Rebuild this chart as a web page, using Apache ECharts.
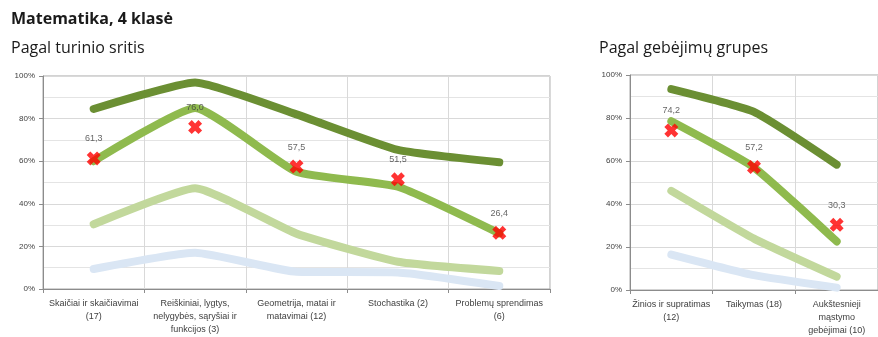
<!DOCTYPE html>
<html>
<head>
<meta charset="utf-8">
<script src="https://cdn.jsdelivr.net/npm/echarts@6/dist/echarts.min.js"></script>
<style>
  html, body { margin: 0; padding: 0; background: #ffffff; }
  #chart { width: 878px; height: 337px; }
</style>
</head>
<body>
<div id="chart"></div>
<script>
// Content areas (left panel)
const contentCategories = [
  'Skaičiai ir skaičiavimai\n(17)',
  'Reiškiniai, lygtys,\nnelygybės, sąryšiai ir\nfunkcijos (3)',
  'Geometrija, matai ir\nmatavimai (12)',
  'Stochastika (2)',
  'Problemų sprendimas\n(6)'
];
const contentHigh   = [84.5, 97.0, 82.0, 65.3, 59.5];
const contentAvgLine = [60.0, 85.0, 55.0, 48.0, 26.1];
const contentLow    = [30.4, 47.3, 26.0, 12.8, 8.5];
const contentLowest = [9.4, 17.0, 8.1, 7.8, 1.4];
const contentScore  = [61.3, 76.0, 57.5, 51.5, 26.4];

// Ability groups (right panel)
const abilityCategories = [
  'Žinios ir supratimas\n(12)',
  'Taikymas (18)',
  'Aukštesnieji\nmąstymo\ngebėjimai (10)'
];
const abilityHigh    = [93.4, 82.8, 58.3];
const abilityAvgLine = [78.5, 57.0, 22.6];
const abilityLow     = [46.1, 23.9, 6.2];
const abilityLowest  = [16.5, 6.9, 1.1];
const abilityScore   = [74.2, 57.2, 30.3];

const yTicks = [0, 20, 40, 60, 80, 100];

const C_DARK = '#6b8f33';
const C_MID = '#8fba4e';
const C_LIGHT = '#c2d89c';
const C_BLUE = '#dae6f4';
const TEXT = '#404040';
const FONT = '"Liberation Sans", Arial, sans-serif';

const crossPath = 'path://M2.6,0L5,2.4L7.4,0L10,2.6L7.6,5L10,7.4L7.4,10L5,7.6L2.6,10L0,7.4L2.4,5L0,2.6Z';

function lineSeries(data, color, idx) {
  return {
    type: 'line', xAxisIndex: idx, yAxisIndex: idx, data: data,
    smooth: 0.15, symbol: 'none', silent: true,
    lineStyle: { color: color, width: 8, cap: 'round', join: 'round' }
  };
}
function scoreSeries(data, idx) {
  return {
    type: 'scatter', xAxisIndex: idx, yAxisIndex: idx, data: data,
    symbol: crossPath, symbolSize: 14, z: 5,
    itemStyle: { color: '#ff0000' },
    label: {
      show: true, position: 'top', distance: 8,
      color: TEXT, fontSize: 9, fontFamily: FONT,
      formatter: p => p.value.toFixed(1).replace('.', ',')
    }
  };
}
function xAxis(cats, idx) {
  return {
    type: 'category', gridIndex: idx, data: cats, boundaryGap: true,
    axisLine: { lineStyle: { color: '#8c8c8c', width: 1 } },
    axisTick: { show: true, length: 4, lineStyle: { color: '#8c8c8c' } },
    splitLine: { show: true, lineStyle: { color: '#d9d9d9', width: 1 } },
    axisLabel: {
      interval: 0, color: TEXT, fontSize: 9, fontFamily: FONT,
      lineHeight: 13, margin: 8
    }
  };
}
function yAxis(idx) {
  return {
    type: 'value', gridIndex: idx, min: yTicks[0], max: yTicks[yTicks.length - 1], interval: 20,
    axisLine: { show: true, lineStyle: { color: '#8c8c8c', width: 1 } },
    axisTick: { show: true, length: 4, lineStyle: { color: '#8c8c8c' } },
    splitLine: { show: true, lineStyle: { color: '#d9d9d9', width: 1 } },
    minorTick: { show: false, splitNumber: 2 },
    minorSplitLine: { show: true, lineStyle: { color: '#e4e4e4', width: 1 } },
    axisLabel: { color: TEXT, fontSize: 8, fontFamily: FONT, margin: 8, formatter: '{value}%' }
  };
}

const chart = echarts.init(document.getElementById('chart'), null, { renderer: 'canvas' });
chart.setOption({
  animation: false,
  backgroundColor: '#ffffff',
  title: [
    { text: 'Matematika, 4 klasė', left: 6, top: 6,
      textStyle: { fontSize: 16, fontWeight: 'bold', color: '#1a1a1a', fontFamily: '"Open Sans", sans-serif' } },
    { text: 'Pagal turinio sritis', left: 6, top: 35,
      textStyle: { fontSize: 16, fontWeight: 'normal', color: '#1a1a1a', fontFamily: '"Open Sans", sans-serif' } },
    { text: 'Pagal gebėjimų grupes', left: 594, top: 35,
      textStyle: { fontSize: 16, fontWeight: 'normal', color: '#1a1a1a', fontFamily: '"Open Sans", sans-serif' } }
  ],
  grid: [
    { left: 43, top: 76, width: 507, height: 213, show: true, borderColor: '#a6a6a6', borderWidth: 1, containLabel: false },
    { left: 630, top: 75, width: 260, height: 217, show: true, borderColor: '#a6a6a6', borderWidth: 1, containLabel: false }
  ],
  xAxis: [xAxis(contentCategories, 0), xAxis(abilityCategories, 1)],
  yAxis: [yAxis(0), yAxis(1)],
  series: [
    lineSeries(contentLowest, C_BLUE, 0),
    lineSeries(contentLow, C_LIGHT, 0),
    lineSeries(contentAvgLine, C_MID, 0),
    lineSeries(contentHigh, C_DARK, 0),
    scoreSeries(contentScore, 0),
    lineSeries(abilityLowest, C_BLUE, 1),
    lineSeries(abilityLow, C_LIGHT, 1),
    lineSeries(abilityAvgLine, C_MID, 1),
    lineSeries(abilityHigh, C_DARK, 1),
    scoreSeries(abilityScore, 1)
  ]
});
</script>
</body>
</html>
